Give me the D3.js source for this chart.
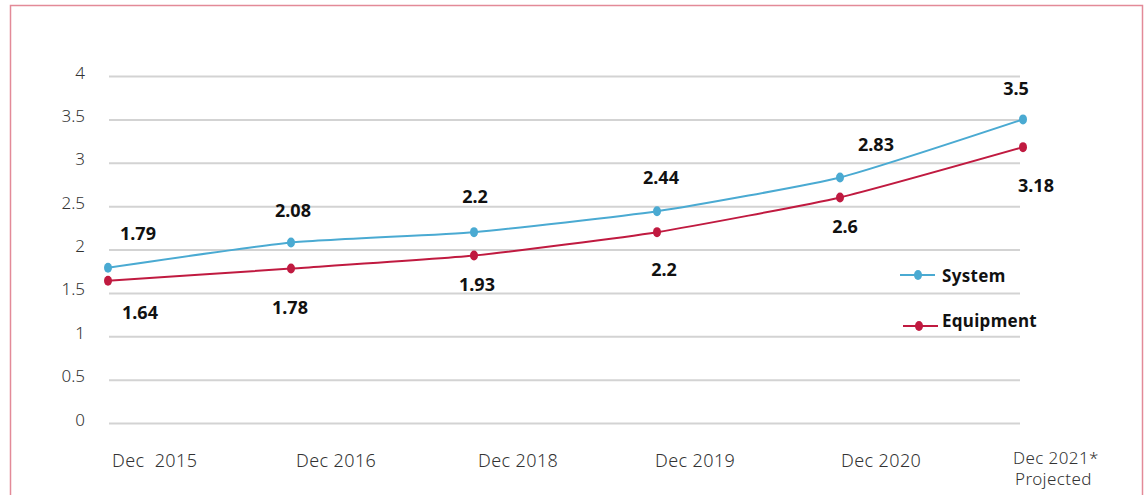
<!DOCTYPE html>
<html>
<head>
<meta charset="utf-8">
<script src="https://cdn.jsdelivr.net/npm/d3@7"></script>
<style>
  html, body { margin: 0; padding: 0; background: #fff; }
  svg { display: block; }
  .tick-label { font-family: "Noto Sans", sans-serif; font-weight: 300; fill: #333; }
  .value-label, .legend-label { font-family: "Noto Sans", sans-serif; font-weight: 700; fill: #111; }
</style>
</head>
<body>
<svg id="chart" width="1147" height="495"></svg>
<script>
// Periods along the horizontal axis
const categories = ["Dec 2015", "Dec 2016", "Dec 2018", "Dec 2019", "Dec 2020", "Dec 2021"];
const xTickLabels = [["Dec  2015"], ["Dec 2016"], ["Dec 2018"], ["Dec 2019"], ["Dec 2020"], ["Dec 2021*", "Projected"]];
const yTicks = [0, 0.5, 1, 1.5, 2, 2.5, 3, 3.5, 4];

// Series values
const systemValues = [1.79, 2.08, 2.2, 2.44, 2.83, 3.5];
const equipmentValues = [1.64, 1.78, 1.93, 2.2, 2.6, 3.18];

const seriesNames = ["System", "Equipment"];
const seriesColors = ["#4aaad2", "#c01a40"];

// Nudges for value labels (dx, dy) relative to each point
const systemLabelOffsets = [[30, -35], [2, -33], [1, -36], [4, -34], [36, -33], [-7, -31]];
const equipmentLabelOffsets = [[32, 31], [-1, 38], [3, 28], [7, 37], [5, 29], [13, 38]];
// Horizontal shift of each x tick label relative to its point
const xLabelShift = [4, 5, 4, -2, 1, -10];

const svg = d3.select("#chart");

// Frame
svg.append("rect")
  .attr("x", 10.5).attr("y", 5.5)
  .attr("width", 1132).attr("height", 520)
  .attr("fill", "none")
  .attr("stroke", "#e38a98")
  .attr("stroke-width", 1.5);

const x = d3.scalePoint().domain(categories).range([108, 1023]);
const y = d3.scaleLinear().domain([0, 4]).range([423, 76]);

// Horizontal gridlines and y tick labels
const yAxis = d3.axisLeft(y).tickValues(yTicks).tickSize(0).tickPadding(0)
  .tickFormat(d => String(d));
const yG = svg.append("g").attr("transform", "translate(85,0)").call(yAxis);
yG.select(".domain").remove();
yG.selectAll("text")
  .attr("class", "tick-label")
  .attr("font-size", 17)
  .attr("dy", "0.12em")
  .attr("x", 0);
yG.selectAll(".tick").append("line")
  .attr("x1", 24).attr("x2", 935)
  .attr("stroke", "#d3d3d3")
  .attr("stroke-width", 2);

// X tick labels (the projected period wraps onto a second line)
const xG = svg.append("g");
categories.forEach((c, i) => {
  const lines = xTickLabels[i];
  const multi = lines.length > 1;
  lines.forEach((line, j) => {
    xG.append("text")
      .attr("class", "tick-label")
      .attr("font-size", multi ? 17 : 18)
      .attr("letter-spacing", 0.4)
      .attr("x", x(c) + xLabelShift[i] + (j === 1 ? 2 : 0))
      .attr("y", (multi ? 464 : 467) + j * 21)
      .style("white-space", "pre")
      .text(line);
  });
});

// Lines
const line = d3.line()
  .x((d, i) => x(categories[i]))
  .y(d => y(d))
  .curve(d3.curveCardinal.tension(0.5));

const series = [
  { name: seriesNames[0], values: systemValues, color: seriesColors[0], offsets: systemLabelOffsets },
  { name: seriesNames[1], values: equipmentValues, color: seriesColors[1], offsets: equipmentLabelOffsets }
];

series.forEach(s => {
  svg.append("path")
    .datum(s.values)
    .attr("d", line)
    .attr("fill", "none")
    .attr("stroke", s.color)
    .attr("stroke-width", 2);

  svg.append("g").selectAll("ellipse")
    .data(s.values)
    .join("ellipse")
    .attr("cx", (d, i) => x(categories[i]))
    .attr("cy", d => y(d))
    .attr("rx", 4)
    .attr("ry", 5)
    .attr("fill", s.color);

  svg.append("g").selectAll("text")
    .data(s.values)
    .join("text")
    .attr("class", "value-label")
    .attr("font-size", 18)
    .attr("text-anchor", "middle")
    .attr("dominant-baseline", "central")
    .attr("x", (d, i) => x(categories[i]) + s.offsets[i][0])
    .attr("y", (d, i) => y(d) + s.offsets[i][1])
    .text(d => String(d));
});

// Legend
const legendItems = [
  { y: 275, ly: 275, x0: 900, x1: 935, dot: 918 },
  { y: 326, ly: 320, x0: 903, x1: 938, dot: 919 }
];
legendItems.forEach((p, i) => {
  const g = svg.append("g");
  g.append("line")
    .attr("x1", p.x0).attr("x2", p.x1)
    .attr("y1", p.y).attr("y2", p.y)
    .attr("stroke", seriesColors[i]).attr("stroke-width", 2);
  g.append("ellipse")
    .attr("cx", p.dot).attr("cy", p.y)
    .attr("rx", 4).attr("ry", 5)
    .attr("fill", seriesColors[i]);
  g.append("text")
    .attr("class", "legend-label")
    .attr("font-size", 17)
    .attr("letter-spacing", 0.3)
    .attr("x", 942).attr("y", p.ly)
    .attr("dominant-baseline", "central")
    .text(seriesNames[i]);
});
</script>
</body>
</html>
